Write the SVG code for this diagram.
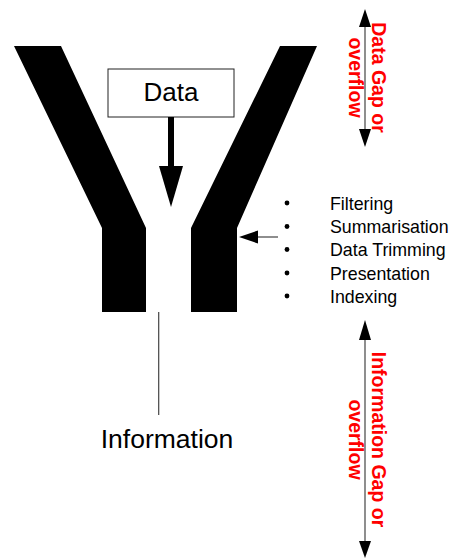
<svg xmlns="http://www.w3.org/2000/svg" width="452" height="559" viewBox="0 0 452 559">
<style>
.arm{fill:#000}
.lbl{font-family:"Liberation Sans",Arial,sans-serif;fill:#000}
.red{font-family:"Liberation Sans",Arial,sans-serif;font-weight:bold;fill:#ff0000;font-size:19.5px}
.thin{stroke:#444;stroke-width:1.2;fill:none}
.bul{fill:#000}
</style>
<rect width="452" height="559" fill="#fff"/>
<g id="funnel">
<polygon class="arm" points="14,46 61,46 146,228 146,312 102,312 102,228"/>
<polygon class="arm" points="280,46 317,46 237,228 237,312 191,312 191,228"/>
</g>
<g id="data">
<rect x="108" y="69" width="126" height="48" fill="#fff" stroke="#222" stroke-width="1"/>
<text class="lbl" x="171" y="101" font-size="26" text-anchor="middle">Data</text>
</g>
<g id="processes">
<circle class="bul" cx="287" cy="203" r="2.4"/>
<circle class="bul" cx="287" cy="226.5" r="2.4"/>
<circle class="bul" cx="287" cy="249.5" r="2.4"/>
<circle class="bul" cx="287" cy="273" r="2.4"/>
<circle class="bul" cx="287" cy="296" r="2.4"/>
<g class="lbl" font-size="17.8">
<text x="330" y="209.5">Filtering</text>
<text x="330" y="233">Summarisation</text>
<text x="330" y="256">Data Trimming</text>
<text x="330" y="279.5">Presentation</text>
<text x="330" y="303">Indexing</text>
</g>
</g>
<g id="information">
<text class="lbl" x="167" y="448" font-size="26.5" text-anchor="middle">Information</text>
</g>
<g id="data-gap">
<text class="red" transform="translate(372,77.5) rotate(90)" text-anchor="middle">Data Gap or</text>
<text class="red" transform="translate(349,77.5) rotate(90)" text-anchor="middle">overflow</text>
</g>
<g id="info-gap">
<text class="red" transform="translate(372,439.5) rotate(90)" text-anchor="middle">Information Gap or</text>
<text class="red" transform="translate(349,439.5) rotate(90)" text-anchor="middle">overflow</text>
</g>
<g id="connectors">
<rect x="168" y="117" width="6" height="50" fill="#000"/>
<polygon points="159,166 183,166 171,207" fill="#000"/>
<line class="thin" x1="257" y1="237" x2="278" y2="237"/>
<polygon points="239,237 258,230.5 258,243.5" fill="#000"/>
<line class="thin" x1="158.7" y1="312" x2="158.7" y2="415"/>
<line class="thin" x1="365" y1="24" x2="365" y2="132"/>
<polygon points="365,9 359,27 371,27" fill="#000"/>
<polygon points="365,147 359,129 371,129" fill="#000"/>
<line class="thin" x1="365" y1="336" x2="365" y2="543"/>
<polygon points="365,320 359,340 371,340" fill="#000"/>
<polygon points="365,558 359,541 371,541" fill="#000"/>
</g>
</svg>
